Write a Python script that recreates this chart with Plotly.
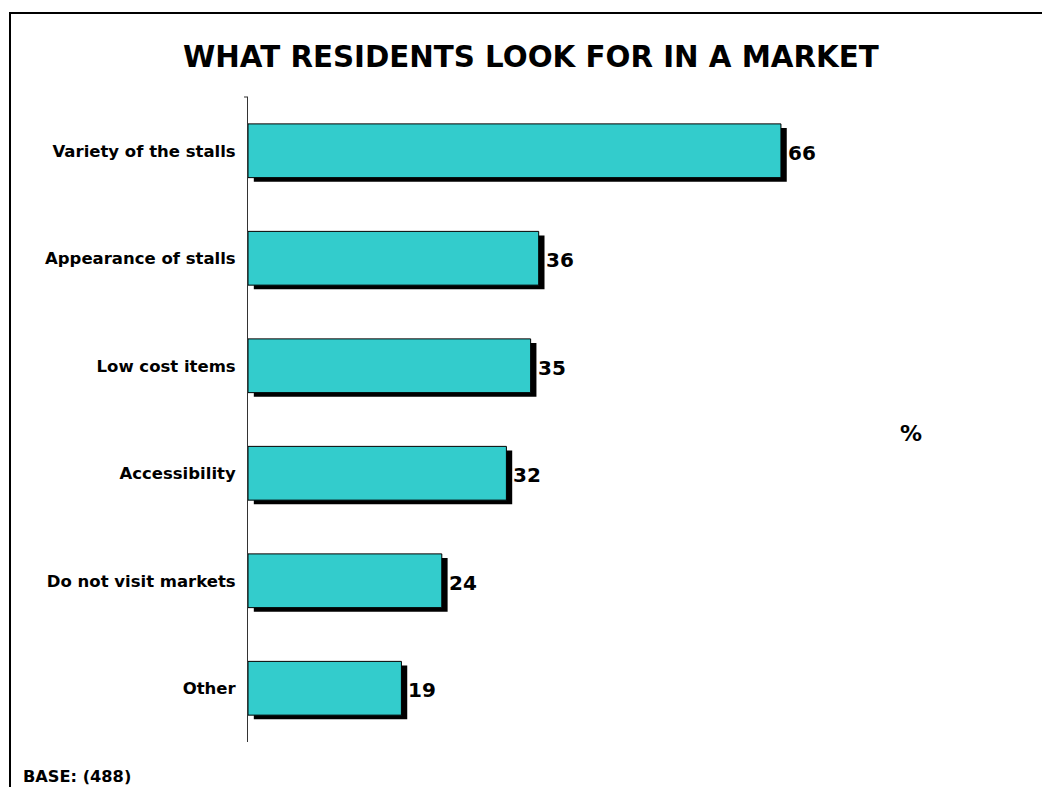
import plotly.graph_objects as go

categories = ["Variety of the stalls", "Appearance of stalls", "Low cost items",
              "Accessibility", "Do not visit markets", "Other"]
values = [66, 36, 35, 32, 24, 19]

title_text = "WHAT RESIDENTS LOOK FOR IN A MARKET"
base_note = "BASE: (488)"
unit_label = "%"

FONT = "DejaVu Sans"
FILL = "#33CCCC"

# figure geometry (pixels)
FIG_W, FIG_H = 1042, 787
L, T, W, H = 248, 97, 646, 645
R = FIG_W - L - W
B = FIG_H - T - H
X_MAX = 80

BAR_W = 0.5
SHADOW_DX = 0.72   # in x units (~6 px)
SHADOW_DY = 0.038  # in category units (~4 px)


def px_x(p):
    return (p - L) / W


def px_y(p):
    return 1 - (p - T) / H


fig = go.Figure()

# drop shadow behind each bar
fig.add_trace(go.Bar(
    x=values, y=categories, orientation="h",
    base=SHADOW_DX, width=BAR_W, offset=-BAR_W / 2 + SHADOW_DY,
    marker=dict(color="black", line=dict(width=0)),
    hoverinfo="skip", showlegend=False,
))

# main bars
fig.add_trace(go.Bar(
    x=values, y=categories, orientation="h",
    width=BAR_W, offset=-BAR_W / 2,
    marker=dict(color=FILL, line=dict(color="black", width=1)),
    showlegend=False,
))

annotations = []
for c, v in zip(categories, values):
    annotations.append(dict(
        x=v, y=c, xref="x", yref="y", text=str(v), showarrow=False,
        xanchor="left", yanchor="middle", xshift=5, yshift=-2,
        font=dict(family=FONT, size=20, color="black", weight="bold"),
    ))

annotations += [
    dict(x=px_x(531), y=px_y(57), xref="paper", yref="paper", text=title_text,
         showarrow=False, xanchor="center", yanchor="middle",
         font=dict(family=FONT, size=29.3, color="black", weight="bold")),
    dict(x=px_x(21), y=px_y(776), xref="paper", yref="paper", text=base_note,
         showarrow=False, xanchor="left", yanchor="middle",
         font=dict(family=FONT, size=16.2, color="black", weight="bold")),
    dict(x=px_x(911), y=px_y(433), xref="paper", yref="paper", text=unit_label,
         showarrow=False, xanchor="center", yanchor="middle",
         font=dict(family=FONT, size=22, color="black", weight="bold")),
]

shapes = [
    # outer frame (right and bottom edges run past the page)
    dict(type="rect", xref="paper", yref="paper",
         x0=px_x(10), x1=px_x(1060), y0=px_y(805), y1=px_y(13),
         line=dict(color="black", width=2), fillcolor="rgba(0,0,0,0)", layer="below"),
    # small tick at the top of the category axis
    dict(type="line", xref="paper", yref="paper",
         x0=px_x(244), x1=px_x(248), y0=1, y1=1,
         line=dict(color="#333333", width=1)),
]

fig.update_layout(
    width=FIG_W, height=FIG_H,
    margin=dict(l=L, r=R, t=T, b=B, pad=0),
    paper_bgcolor="white", plot_bgcolor="white",
    barmode="overlay",
    showlegend=False,
    annotations=annotations,
    shapes=shapes,
    xaxis=dict(range=[0, X_MAX], visible=False, fixedrange=True),
    yaxis=dict(
        categoryorder="array", categoryarray=categories,
        range=[len(categories) - 0.5, -0.5],
        showline=True, linecolor="#333333", linewidth=1,
        showgrid=False, zeroline=False, ticks="",
        ticklabelstandoff=8,
        tickfont=dict(family=FONT, size=16.5, color="black", weight="bold"),
    ),
)

fig.write_html("out.html")
